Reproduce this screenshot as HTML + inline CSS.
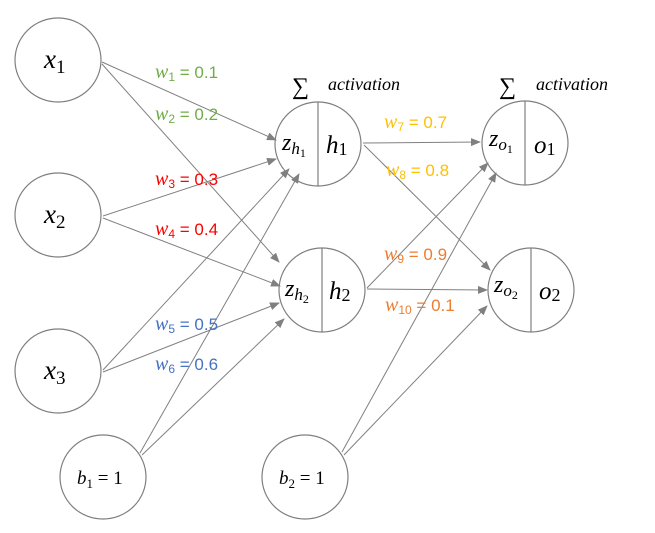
<!DOCTYPE html>
<html><head><meta charset="utf-8"><style>
html,body{margin:0;padding:0;background:#fff;}
svg{display:block;}
.m{font-family:"Liberation Serif",serif;font-style:italic;}
.n{font-family:"Liberation Serif",serif;font-style:normal;}
.w{font-family:"Liberation Sans",sans-serif;font-size:17px;}
.w .v{font-family:"Liberation Serif",serif;font-style:italic;font-size:20px;}
</style></head><body>
<svg width="655" height="533" viewBox="0 0 655 533" xmlns="http://www.w3.org/2000/svg">
<defs><marker id="a" markerWidth="10" markerHeight="8" refX="9" refY="4" orient="auto" markerUnits="userSpaceOnUse"><path d="M0,0 L10,4 L0,8 z" fill="#808080"/></marker></defs>
<g fill="#fff" stroke="#7f7f7f" stroke-width="1.2">
<ellipse cx="58" cy="60" rx="43" ry="42"/>
<ellipse cx="58" cy="215" rx="43" ry="42"/>
<ellipse cx="58" cy="371" rx="43" ry="42"/>
<ellipse cx="103" cy="477" rx="43" ry="42"/>
<ellipse cx="305" cy="477" rx="43" ry="42"/>
<ellipse cx="318" cy="144" rx="43" ry="42"/>
<ellipse cx="322" cy="290" rx="43" ry="42"/>
<ellipse cx="525" cy="143" rx="43" ry="42"/>
<ellipse cx="531" cy="290" rx="43" ry="42"/>
<line x1="318" y1="102" x2="318" y2="186"/>
<line x1="322" y1="248" x2="322" y2="332"/>
<line x1="525" y1="101" x2="525" y2="185"/>
<line x1="531" y1="248" x2="531" y2="332"/>
</g>
<g stroke="#808080" stroke-width="1" marker-end="url(#a)">
<line x1="102" y1="62" x2="276" y2="140"/>
<line x1="102" y1="64" x2="279" y2="262"/>
<line x1="103" y1="216" x2="276" y2="159"/>
<line x1="103" y1="218" x2="280" y2="286"/>
<line x1="103" y1="370" x2="289" y2="169"/>
<line x1="103" y1="372" x2="279" y2="303"/>
<line x1="140" y1="453" x2="299" y2="174"/>
<line x1="142" y1="455" x2="284" y2="319"/>
<line x1="363" y1="143" x2="480" y2="142"/>
<line x1="364" y1="145" x2="490" y2="270"/>
<line x1="367" y1="288" x2="488" y2="163"/>
<line x1="367" y1="289" x2="487" y2="290"/>
<line x1="342" y1="452" x2="496" y2="173"/>
<line x1="344" y1="455" x2="487" y2="306"/>
</g>
<g class="m" font-size="27" fill="#000">
<text x="44" y="68">x<tspan class="n" font-size="19" dy="5">1</tspan></text>
<text x="44" y="223">x<tspan class="n" font-size="19" dy="5">2</tspan></text>
<text x="44" y="379">x<tspan class="n" font-size="19" dy="5">3</tspan></text>
<text x="77" y="484" font-size="19">b<tspan class="n" font-size="13" dy="4">1</tspan><tspan class="n" dy="-4"> = 1</tspan></text>
<text x="279" y="484" font-size="19">b<tspan class="n" font-size="13" dy="4">2</tspan><tspan class="n" dy="-4"> = 1</tspan></text>
<text x="282" y="150" font-size="24">z<tspan font-size="17" dy="4">h</tspan><tspan class="n" font-size="12" dy="3">1</tspan></text>
<text x="326" y="153" font-size="25">h<tspan class="n" font-size="18" dy="2">1</tspan></text>
<text x="285" y="296" font-size="24">z<tspan font-size="17" dy="4">h</tspan><tspan class="n" font-size="12" dy="3">2</tspan></text>
<text x="329" y="299" font-size="25">h<tspan class="n" font-size="18" dy="2">2</tspan></text>
<text x="489" y="146" font-size="24">z<tspan font-size="17" dy="4">o</tspan><tspan class="n" font-size="12" dy="3">1</tspan></text>
<text x="534" y="153" font-size="25">o<tspan class="n" font-size="18" dy="2">1</tspan></text>
<text x="494" y="292" font-size="24">z<tspan font-size="17" dy="4">o</tspan><tspan class="n" font-size="12" dy="3">2</tspan></text>
<text x="539" y="299" font-size="25">o<tspan class="n" font-size="18" dy="2">2</tspan></text>
<text x="328" y="90" font-size="18">activation</text>
<text x="536" y="90" font-size="18">activation</text>
</g>
<g class="n" font-size="24" fill="#000">
<text x="292" y="94">∑</text>
<text x="499" y="94">∑</text>
</g>
<g class="w">
<text x="155" y="78" fill="#70ad47"><tspan class="v">w</tspan><tspan font-size="12" dy="3">1</tspan><tspan dy="-3"> = 0.1</tspan></text>
<text x="155" y="120" fill="#70ad47"><tspan class="v">w</tspan><tspan font-size="12" dy="3">2</tspan><tspan dy="-3"> = 0.2</tspan></text>
<text x="155" y="185" fill="#ff0000"><tspan class="v">w</tspan><tspan font-size="12" dy="3">3</tspan><tspan dy="-3"> = 0.3</tspan></text>
<text x="155" y="235" fill="#ff0000"><tspan class="v">w</tspan><tspan font-size="12" dy="3">4</tspan><tspan dy="-3"> = 0.4</tspan></text>
<text x="155" y="330" fill="#4472c4"><tspan class="v">w</tspan><tspan font-size="12" dy="3">5</tspan><tspan dy="-3"> = 0.5</tspan></text>
<text x="155" y="370" fill="#4472c4"><tspan class="v">w</tspan><tspan font-size="12" dy="3">6</tspan><tspan dy="-3"> = 0.6</tspan></text>
<text x="384" y="128" fill="#ffc000"><tspan class="v">w</tspan><tspan font-size="12" dy="3">7</tspan><tspan dy="-3"> = 0.7</tspan></text>
<text x="386" y="176" fill="#ffc000"><tspan class="v">w</tspan><tspan font-size="12" dy="3">8</tspan><tspan dy="-3"> = 0.8</tspan></text>
<text x="384" y="260" fill="#ed7d31"><tspan class="v">w</tspan><tspan font-size="12" dy="3">9</tspan><tspan dy="-3"> = 0.9</tspan></text>
<text x="385" y="311" fill="#ed7d31"><tspan class="v">w</tspan><tspan font-size="12" dy="3">10</tspan><tspan dy="-3"> = 0.1</tspan></text>
</g>
</svg>
</body></html>
